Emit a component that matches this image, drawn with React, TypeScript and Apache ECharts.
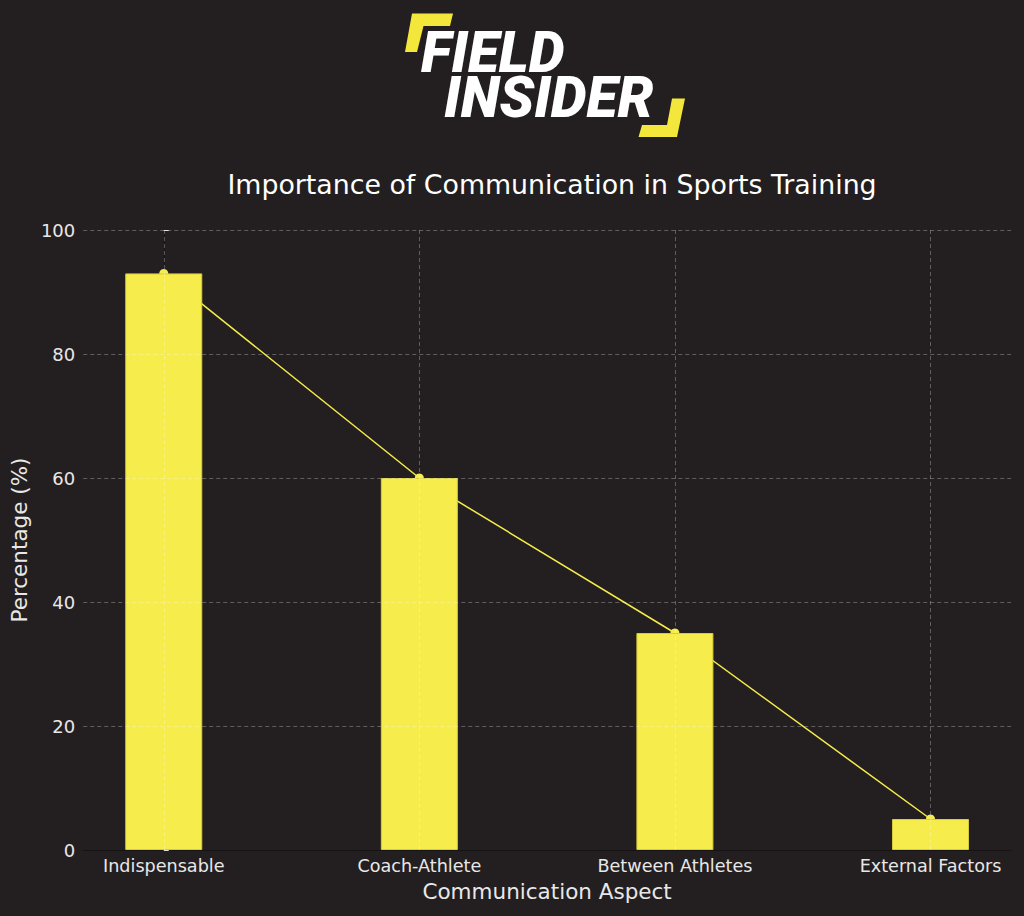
import React, { useEffect, useRef } from "react";
import * as echarts from "echarts";

const categories = ["Indispensable", "Coach-Athlete", "Between Athletes", "External Factors"];
const percentages = [93, 60, 35, 5];
const yTicks = [0, 20, 40, 60, 80, 100];
const xPositions = [0, 1, 2, 3];

const BG = "#231f20";
const YELLOW = "#f6ec4b";
const TEXT = "#e8e8e8";
const FONT = "DejaVu Sans";
const GRID = "rgba(255,255,255,0.28)";
const LOGO_FONT = "italic 900 57px Roboto";

export default function App() {
  const ref = useRef<HTMLDivElement>(null);
  useEffect(() => {
    if (!ref.current) return;
    const chart = echarts.init(ref.current, undefined, { renderer: "svg" });
    const pts = percentages.map((v, i) => [xPositions[i], v]);
    const gridLines: any[] = [
      ...yTicks.filter((t) => t > 0).map((t) => ({ yAxis: t })),
      ...xPositions.map((x) => ({ xAxis: x })),
    ];
    chart.setOption({
      animation: false,
      backgroundColor: BG,
      title: {
        text: "Importance of Communication in Sports Training",
        left: 547,
        textAlign: "center",
        top: 166,
        textStyle: { color: "#ffffff", fontSize: 26.8, fontWeight: "normal", fontFamily: FONT },
      },
      grid: { left: 83, right: 13, top: 230, bottom: 66, containLabel: false },
      xAxis: {
        type: "value",
        min: -0.315,
        max: 3.315,
        name: "Communication Aspect",
        nameLocation: "middle",
        nameGap: 30,
        nameTextStyle: { color: TEXT, fontSize: 21.5, fontFamily: FONT },
        axisLine: { show: true, lineStyle: { color: "#161314", width: 1 } },
        axisTick: { show: true, inside: true, length: 5, customValues: xPositions, lineStyle: { color: "#dddddd" } },
        axisLabel: {
          customValues: xPositions,
          color: TEXT,
          fontSize: 17.6,
          fontFamily: FONT,
          margin: 7,
          formatter: (v: number) => categories[Math.round(v)] ?? "",
        },
        splitLine: { show: false },
      },
      yAxis: {
        type: "value",
        min: 0,
        max: 100,
        interval: 20,
        name: "Percentage (%)",
        nameLocation: "middle",
        nameGap: 52,
        nameTextStyle: { color: TEXT, fontSize: 21.5, fontFamily: FONT },
        axisLine: { show: true, lineStyle: { color: "#161314", width: 1 } },
        axisTick: { show: true, inside: true, length: 5, lineStyle: { color: "#dddddd" } },
        axisLabel: { color: TEXT, fontSize: 18, fontFamily: FONT, margin: 8 },
        splitLine: { show: false },
      },
      series: [
        {
          type: "line",
          data: pts,
          z: 1,
          symbol: "circle",
          symbolSize: 9,
          itemStyle: { color: YELLOW },
          lineStyle: { color: YELLOW, width: 1.5 },
          silent: true,
        },
        {
          type: "bar",
          data: pts,
          z: 2,
          barWidth: 77,
          itemStyle: { color: YELLOW, borderColor: "#d6cd3e", borderWidth: 1 },
          silent: true,
          markLine: {
            silent: true,
            symbol: ["none", "none"],
            label: { show: false },
            lineStyle: { color: GRID, type: [4, 3], width: 1 },
            emphasis: { disabled: true },
            data: gridLines,
          },
        },
      ],
      graphic: [
        {
          type: "polygon",
          shape: { points: [[412, 13.5], [453, 13.5], [450, 26], [423.5, 26], [417, 52], [405, 52]] },
          style: { fill: "#f4e73c" },
        },
        {
          type: "polygon",
          shape: { points: [[685, 98.5], [672, 98.5], [667, 125], [642, 125], [638.5, 137], [677, 137]] },
          style: { fill: "#f4e73c" },
        },
        {
          type: "text",
          x: 421,
          y: 74.5,
          style: {
            text: "{a|FIELD}\n{b|INSIDER}",
            fill: "#ffffff",
            font: LOGO_FONT,
            verticalAlign: "middle",
            align: "left",
            rich: {
              a: { font: LOGO_FONT, fill: "#ffffff", lineHeight: 45 },
              b: { font: LOGO_FONT, fill: "#ffffff", lineHeight: 45, padding: [0, 0, 0, 23] },
            },
          },
        },
      ],
    });
    return () => chart.dispose();
  }, []);
  return <div ref={ref} style={{ width: 1024, height: 916, position: "absolute", left: 0, top: 0 }} />;
}
